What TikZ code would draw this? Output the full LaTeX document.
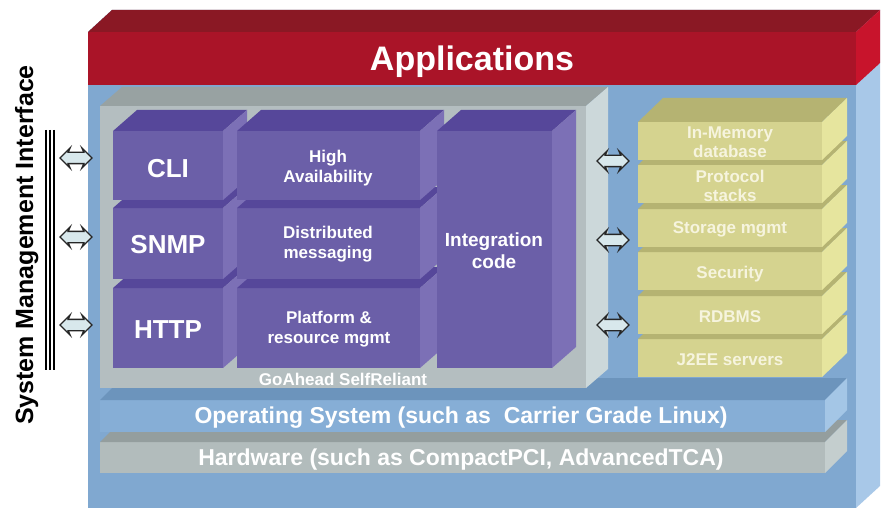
\documentclass[tikz,border=0pt]{standalone}
\usepackage{fontspec}
\setmainfont{Liberation Sans}
\usetikzlibrary{shapes.arrows}

\definecolor{blueF}{HTML}{80A8D0}
\definecolor{blueT}{HTML}{6C94BC}
\definecolor{blueR}{HTML}{A8C8E8}
\definecolor{redF}{HTML}{AA1428}
\definecolor{redT}{HTML}{8A1824}
\definecolor{redR}{HTML}{C8142C}
\definecolor{greyF}{HTML}{B4BEC0}
\definecolor{greyT}{HTML}{98A2A2}
\definecolor{greyR}{HTML}{CCD8DA}
\definecolor{purpleF}{HTML}{6B5FA8}
\definecolor{purpleT}{HTML}{56479A}
\definecolor{purpleR}{HTML}{7C70B6}
\definecolor{yellowF}{HTML}{D5D38F}
\definecolor{yellowT}{HTML}{B5B372}
\definecolor{yellowR}{HTML}{E6E59E}
\definecolor{osF}{HTML}{86AED6}
\definecolor{osT}{HTML}{6C94BC}
\definecolor{osR}{HTML}{A4C6E6}
\definecolor{hwF}{HTML}{B2BCBC}
\definecolor{hwT}{HTML}{949E9E}
\definecolor{hwR}{HTML}{C4CECE}
\definecolor{creamtxt}{HTML}{F6F4DE}
\definecolor{arrowfill}{HTML}{D8E8EC}

% front, top and right face of a block
\newcommand{\slab}[7]{%
	\fill[#1F] (#2,#3) rectangle (#4,#5);
	\fill[#1T] (#2,#3) -- ++(#6,#7) -- ++(#4-#2,0) -- (#4,#3) -- cycle;
	\fill[#1R] (#4,#3) -- ++(#6,#7) -- ++(0,#5-#3) -- (#4,#5) -- cycle;
}

\begin{document}
\begin{tikzpicture}[x=1pt, y=-1pt,
	big/.style={text=white, font=\bfseries\fontsize{26}{30}\selectfont},
	lbl/.style={text=white, font=\bfseries\fontsize{17}{20}\selectfont, align=center},
	ylbl/.style={text=creamtxt, font=\bfseries\fontsize{17}{19}\selectfont, align=center},
	band/.style={text=white, font=\bfseries\fontsize{23}{27}\selectfont, anchor=base},
	link/.style={double arrow, draw=black!85, fill=arrowfill, line width=1.3pt, minimum height=32pt, inner sep=0pt, inner ysep=5pt, double arrow head extend=4.5pt, double arrow head indent=2pt}]
	\useasboundingbox (0,0) rectangle (881,508);
	
	\slab{blue}{88}{32}{856}{508}{24}{-22}
	\slab{red}{88}{32}{856}{85}{24}{-22}
	\slab{hw}{100}{442}{825}{473}{22}{-22}
	\slab{os}{100}{400}{825}{432}{22}{-22}
	\slab{grey}{100}{106}{586}{388}{22}{-19}
	
	\foreach \t/\b in {288/368,208/279,131/200} {
		\slab{purple}{113}{\t}{223}{\b}{24}{-21}
	}
	\foreach \t/\b in {288/368,208/279,131/200} {
		\slab{purple}{237}{\t}{420}{\b}{24}{-21}
	}
	\slab{purple}{437}{131}{552}{368}{24}{-21}
	\foreach \t in {339,296,252,209,165,122} {
		\slab{yellow}{638}{\t}{822}{\t+38}{25}{-24}
	}
	
	\foreach \x in {46,50,54} \draw[line width=1.6pt] (\x,130) -- (\x,370);
	
	\node[link] (l1) at (76,158) {};
	\node[link] (l2) at (76,237) {};
	\node[link] (l3) at (76,325) {};
	\node[link] (r1) at (613,161) {};
	\node[link] (r2) at (613,240) {};
	\node[link] (r3) at (613,325) {};
	
	\node[text=white, font=\bfseries\fontsize{34}{40}\selectfont, anchor=base] (apps) at (472,71) {Applications};
	\node[rotate=90, anchor=base, font=\bfseries\fontsize{25}{30}\selectfont] (smi) at (33,245) {System Management Interface};
	
	\node[big, anchor=base] (cli) at (168,178) {CLI};
	\node[big, anchor=base] (snmp) at (168,253) {SNMP};
	\node[big, anchor=base] (http) at (168,338) {HTTP};
	\node[lbl] (ha) at (328,168) {High\\Availability};
	\node[lbl] (dm) at (328,244) {Distributed\\messaging};
	\node[lbl] (prm) at (329,329) {Platform \&\\resource mgmt};
	\node[lbl, font=\bfseries\fontsize{19}{22}\selectfont] (integ) at (494,251) {Integration\\code};
	\node[lbl, anchor=base] (goahead) at (343,385) {GoAhead SelfReliant};
	
	\node[ylbl] (imdb) at (730,142) {In-Memory\\database};
	\node[ylbl] (proto) at (730,186) {Protocol\\stacks};
	\node[ylbl, anchor=base] (storage) at (730,233) {Storage mgmt};
	\node[ylbl, anchor=base] (security) at (730,278) {Security};
	\node[ylbl, anchor=base] (rdbms) at (730,322) {RDBMS};
	\node[ylbl, anchor=base] (jee) at (730,365) {J2EE servers};
	
	\node[band] (os) at (461,423) {Operating System (such as\ \ Carrier Grade Linux)};
	\node[band] (hw) at (461,465) {Hardware (such as CompactPCI, AdvancedTCA)};
\end{tikzpicture}
\end{document}
